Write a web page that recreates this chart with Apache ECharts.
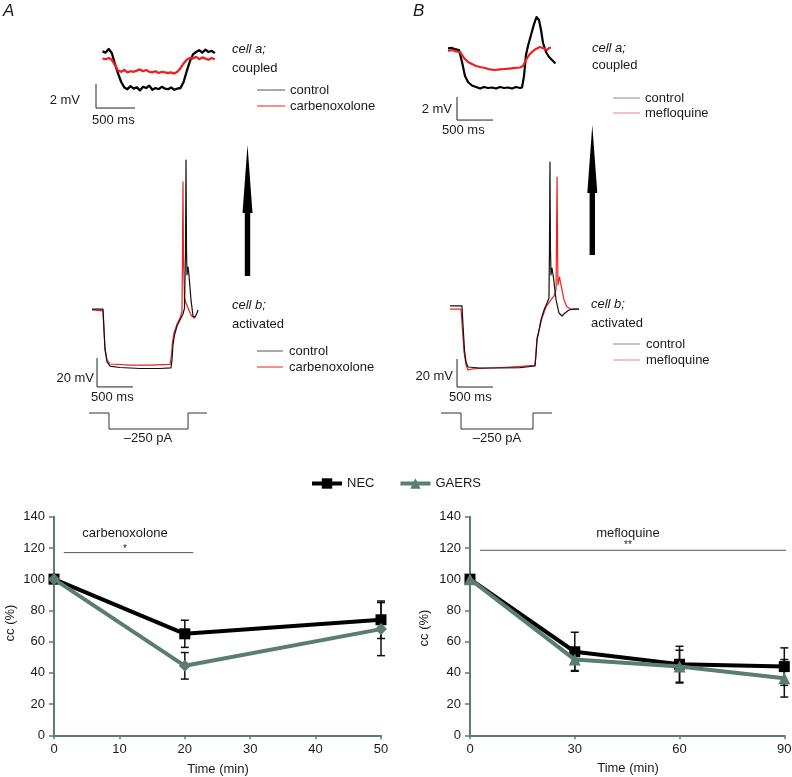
<!DOCTYPE html>
<html><head><meta charset="utf-8">
<script src="https://cdn.jsdelivr.net/npm/echarts@6/dist/echarts.min.js"></script>
<style>html,body{margin:0;padding:0;background:#fff}#c{width:792px;height:777px}</style>
</head><body><div id="c"></div>
<script>
// ---------- bottom charts data ----------
const timeCarb = [0, 20, 50];
const necCarb = [100, 65, 74];
const necCarbErr = [0, 8.7, 12];
const gaersCarb = [100, 44.5, 68];
const gaersCarbErr = [0, 8.5, 17];
const timeMef = [0, 30, 60, 90];
const necMef = [100, 53.5, 45.5, 44];
const necMefErr = [0, 12.5, 11.5, 12];
const gaersMef = [100, 48.5, 44, 36.5];
const gaersMefErr = [0, 7, 10.5, 12];
const carbSpan = [[1.5, 117], [21.3, 117]];
const mefSpan = [[2.9, 118.5], [90.8, 118.5]];
const ccTicks = [0, 20, 40, 60, 80, 100, 120, 140];

// ---------- trace data (ms, mV) ----------
const timeA1 = [160,200,240,280,320,360,400,440,480,520,560,600,640,680,720,760,800,840,880,920,960,1000,1040,1080,1120,1160,1200,1240,1280,1320,1360,1400,1440,1480,1520,1560,1600];
const ctrlA1 = [0.55,0.45,0.75,0.4,-0.5,-1.3,-2.0,-2.45,-2.6,-2.35,-2.55,-2.45,-2.7,-2.4,-2.5,-2.3,-2.65,-2.5,-2.6,-2.4,-2.55,-2.6,-2.45,-2.65,-2.55,-2.5,-2.0,-1.1,-0.3,0.3,0.5,0.65,0.45,0.7,0.5,0.6,0.4];
const carbA1 = [-0.05,-0.1,0.0,-0.15,-0.6,-1.05,-1.15,-1.0,-1.2,-1.1,-1.15,-1.05,-0.95,-1.1,-1.0,-1.15,-1.2,-1.1,-1.25,-1.15,-1.2,-1.25,-1.2,-1.3,-1.15,-0.85,-0.45,-0.15,0.0,-0.05,0.1,-0.1,0.05,-0.05,-0.15,0.0,-0.1];

const ctrlB1 = [[111,-1.33],[167,-1.30],[222,-1.43],[264,-1.48],[306,-2.52],[347,-3.74],[389,-4.26],[444,-4.57],[500,-4.70],[556,-4.83],[611,-4.70],[667,-4.78],[722,-4.74],[778,-4.83],[833,-4.70],[889,-4.78],[944,-4.74],[1000,-4.83],[1056,-4.70],[1111,-4.78],[1139,-4.74],[1167,-3.74],[1194,-1.91],[1222,-1.13],[1264,-0.17],[1306,0.78],[1340,1.39],[1375,1.13],[1403,0.26],[1431,-0.87],[1472,-1.65],[1514,-2.09],[1556,-2.35],[1604,-2.65]];
const mefB1 = [[111,-1.57],[167,-1.48],[222,-1.61],[278,-1.65],[333,-2.17],[389,-2.52],[444,-2.70],[500,-2.87],[556,-2.96],[625,-3.04],[694,-3.17],[764,-3.22],[833,-3.17],[903,-3.13],[972,-3.09],[1042,-3.04],[1111,-3.00],[1153,-2.87],[1194,-2.35],[1236,-1.91],[1278,-1.65],[1333,-1.39],[1389,-1.22],[1444,-1.35],[1486,-1.48],[1514,-1.30],[1542,-1.26]];

const ctrlA2 = [[97,-69.7],[250,-69.7],[264,-84.1],[278,-97.9],[306,-106.2],[347,-109.0],[486,-110.0],[764,-110.7],[1042,-110.7],[1194,-110.3],[1208,-104.8],[1222,-94.5],[1243,-87.6],[1278,-81.4],[1319,-77.2],[1361,-73.1],[1382,-69.0],[1396,-29],[1403,33.1],[1410,-29],[1417,-46.2],[1431,-40.7],[1444,-46.2],[1472,-63.4],[1500,-74.5],[1528,-75.2],[1556,-72.4],[1569,-70.3]];
const carbA2 = [[97,-70.3],[250,-71.0],[264,-84.1],[278,-96.6],[306,-104.8],[347,-107.6],[625,-108.3],[903,-108.3],[1181,-107.9],[1201,-101.4],[1215,-92.4],[1236,-86.2],[1278,-80.0],[1319,-75.9],[1347,-71.7],[1354,-29],[1361,18.0],[1368,-35.9],[1382,-62.1],[1403,-65.5],[1431,-69.0],[1472,-73.8],[1514,-75.9],[1528,-75.2]];

const ctrlB2 = [[69,-71.4],[236,-71.4],[250,-85],[271,-102.9],[292,-111.4],[319,-115],[486,-115.7],[764,-115.7],[1042,-115.4],[1250,-114.3],[1264,-106.4],[1278,-95.7],[1299,-90.7],[1333,-81.4],[1375,-74.3],[1417,-69.3],[1444,-65.7],[1451,-31.4],[1458,31.4],[1465,-31.4],[1472,-49.3],[1486,-44.3],[1507,-51.4],[1542,-67.1],[1583,-76.4],[1625,-78.6],[1667,-76.4],[1722,-74.3],[1792,-73.6],[1861,-73.6]];
const mefB2 = [[69,-73.6],[222,-73.6],[243,-88.6],[264,-104.3],[292,-113.6],[319,-117.1],[375,-116.4],[625,-115.7],[903,-115],[1250,-113.9],[1264,-104.3],[1278,-94.3],[1306,-88.6],[1347,-80],[1403,-72.1],[1458,-67.9],[1514,-64.3],[1542,-60],[1549,-24.3],[1556,20.7],[1563,-24.3],[1569,-56.4],[1590,-50.7],[1611,-56.4],[1653,-67.1],[1694,-72.1],[1750,-73.6],[1861,-73.6]];

// current command steps (ms, pA)
const stepTimeA = [56, 333, 333, 1431, 1431, 1694];
const stepTimeB = [83, 361, 361, 1361, 1361, 1625];
const stepCurrent = [0, 0, -250, -250, 0, 0];

// scale bars (500 ms, 2 mV / 20 mV)
const scaleA1 = [[77,-2.17],[77,-4.17],[577,-4.17]];
const scaleB1 = [[236,-5.57],[236,-7.57],[736,-7.57]];
const scaleA2 = [[167,-103.4],[167,-123.4],[667,-123.4]];
const scaleB2 = [[167,-109.3],[167,-129.3],[667,-129.3]];

// ---------- styling ----------
const FONT = 'Liberation Sans, Arial, Helvetica, sans-serif';
const TEAL = '#5a7d73';
const RED = '#ec2020';
const TXT = '#1a1a1a';

const chart = echarts.init(document.getElementById('c'), null, {renderer: 'canvas'});

function hiddenAxis(gi, min, max) {
  return {type: 'value', gridIndex: gi, min, max, show: false, splitLine: {show: false}};
}
function ccXAxis(gi, max, interval) {
  return {type: 'value', gridIndex: gi, min: 0, max, interval,
    axisLine: {show: true, onZero: false, lineStyle: {color: TEAL, width: 2}},
    axisTick: {show: true, length: 4, lineStyle: {color: TEAL, width: 1.5}},
    axisLabel: {color: TXT, fontSize: 13, fontFamily: FONT, margin: 8},
    splitLine: {show: false}};
}
function ccYAxis(gi) {
  return {type: 'value', gridIndex: gi, min: ccTicks[0], max: ccTicks[ccTicks.length-1], interval: ccTicks[1]-ccTicks[0],
    axisLine: {show: true, onZero: false, lineStyle: {color: TEAL, width: 2}},
    axisTick: {show: true, length: 5, lineStyle: {color: TEAL, width: 1.5}},
    axisLabel: {color: TXT, fontSize: 13, fontFamily: FONT, margin: 9},
    splitLine: {show: false}};
}
function trace(name, gi, data, color, width, z) {
  return {type: 'line', name, xAxisIndex: gi, yAxisIndex: gi, data, symbol: 'none', showSymbol: false,
    lineStyle: {color, width, join: 'round'}, silent: true, animation: false, z: z || 2, clip: false};
}
function errBars(gi, xs, ys, es) {
  const data = xs.map((x, i) => [x, ys[i] - es[i], ys[i] + es[i]]);
  return {type: 'custom', xAxisIndex: gi, yAxisIndex: gi, data, z: 2, silent: true, animation: false,
    encode: {x: 0, y: [1, 2]},
    renderItem: function (params, api) {
      const x = api.value(0), lo = api.value(1), hi = api.value(2);
      if (hi - lo < 0.01) return null;
      const a = api.coord([x, hi]), b = api.coord([x, lo]);
      const st = {stroke: '#111', lineWidth: 1.5};
      return {type: 'group', children: [
        {type: 'line', shape: {x1: a[0], y1: a[1], x2: b[0], y2: b[1]}, style: st},
        {type: 'line', shape: {x1: a[0]-4, y1: a[1], x2: a[0]+4, y2: a[1]}, style: st},
        {type: 'line', shape: {x1: b[0]-4, y1: b[1], x2: b[0]+4, y2: b[1]}, style: st}
      ]};
    }};
}
function ccSeries(name, gi, xs, ys, color, symbol, size) {
  return {type: 'line', name, xAxisIndex: gi, yAxisIndex: gi, data: xs.map((x, i) => [x, ys[i]]),
    symbol, symbolSize: size, showSymbol: true, lineStyle: {color, width: 4}, itemStyle: {color},
    z: name === 'GAERS' ? 4 : 3, animation: false, clip: false};
}

const txt = (text, x, y, opt) => Object.assign({type: 'text', x, y, silent: true,
  style: Object.assign({text, fill: TXT, font: '13px ' + FONT, align: 'left', verticalAlign: 'middle'}, (opt || {}))});
const seg = (x1, y1, x2, y2, color, w) => ({type: 'line', silent: true, shape: {x1, y1, x2, y2}, style: {stroke: color, lineWidth: w || 1}});
const arrow = (cx, tip, base, bottom) => ({type: 'polygon', silent: true,
  shape: {points: [[cx, tip], [cx+5, base], [cx+2.7, base], [cx+2.7, bottom], [cx-2.7, bottom], [cx-2.7, base], [cx-5, base]]},
  style: {fill: '#000'}});

const option = {
  backgroundColor: '#fff',
  animation: false,
  legend: {
    data: ['NEC', 'GAERS'], left: 305, top: 472, itemWidth: 30, itemHeight: 13, itemGap: 24,
    lineStyle: {width: 4},
    textStyle: {fontSize: 13, color: TXT, fontFamily: FONT}, selectedMode: false
  },
  grid: [
    {left: 54, top: 516.7, width: 327, height: 218.6, outerBoundsMode: 'none'},
    {left: 470, top: 516.7, width: 314.3, height: 218.6, outerBoundsMode: 'none'},
    {left: 90, top: 34, width: 130, height: 84, outerBoundsMode: 'none'},
    {left: 440, top: 10, width: 130, height: 115, outerBoundsMode: 'none'},
    {left: 85, top: 150, width: 125, height: 240, outerBoundsMode: 'none'},
    {left: 445, top: 150, width: 140, height: 240, outerBoundsMode: 'none'},
    {left: 85, top: 403.4, width: 125, height: 32, outerBoundsMode: 'none'},
    {left: 435, top: 403.4, width: 130, height: 32, outerBoundsMode: 'none'}
  ],
  xAxis: [
    ccXAxis(0, 50, 10),
    ccXAxis(1, 90, 30),
    hiddenAxis(2, 0, 130 / 0.078),
    hiddenAxis(3, 0, 130 / 0.072),
    hiddenAxis(4, 0, 125 / 0.072),
    hiddenAxis(5, 0, 140 / 0.072),
    hiddenAxis(6, 0, 125 / 0.072),
    hiddenAxis(7, 0, 130 / 0.072)
  ],
  yAxis: [
    ccYAxis(0),
    ccYAxis(1),
    hiddenAxis(2, -5, 2),
    hiddenAxis(3, -8, 2),
    hiddenAxis(4, 40 - 240 / 1.45, 40),
    hiddenAxis(5, 40 - 240 / 1.4, 40),
    hiddenAxis(6, -350, 150),
    hiddenAxis(7, -350, 150)
  ],
  series: [
    // right chart first so legend picks triangle for GAERS
    errBars(1, timeMef, necMef, necMefErr),
    errBars(1, timeMef, gaersMef, gaersMefErr),
    ccSeries('NEC', 1, timeMef, necMef, '#000', 'rect', 11),
    ccSeries('GAERS', 1, timeMef, gaersMef, TEAL, 'triangle', 12),
    errBars(0, timeCarb, necCarb, necCarbErr),
    errBars(0, timeCarb, gaersCarb, gaersCarbErr),
    ccSeries('NEC', 0, timeCarb, necCarb, '#000', 'rect', 11),
    ccSeries('GAERS', 0, timeCarb, gaersCarb, TEAL, 'diamond', 12),
    trace('carbenoxolone span', 0, carbSpan, '#555', 1),
    trace('mefloquine span', 1, mefSpan, '#555', 1),
    // top traces
    trace('control', 2, timeA1.map((t, i) => [t, ctrlA1[i]]), '#000', 2.3, 3),
    trace('carbenoxolone', 2, timeA1.map((t, i) => [t, carbA1[i]]), RED, 2.3, 4),
    trace('scale', 2, scaleA1, '#222', 1),
    trace('control', 3, ctrlB1, '#000', 2.2, 3),
    trace('mefloquine', 3, mefB1, RED, 2.2, 4),
    trace('scale', 3, scaleB1, '#222', 1),
    // middle traces
    trace('control', 4, ctrlA2, '#111', 1.2, 4),
    trace('carbenoxolone', 4, carbA2, RED, 1.2, 3),
    trace('scale', 4, scaleA2, '#222', 1),
    trace('control', 5, ctrlB2, '#111', 1.2, 4),
    trace('mefloquine', 5, mefB2, RED, 1.2, 3),
    trace('scale', 5, scaleB2, '#222', 1),
    // current steps
    trace('step', 6, stepTimeA.map((t, i) => [t, stepCurrent[i]]), '#333', 1),
    trace('step', 7, stepTimeB.map((t, i) => [t, stepCurrent[i]]), '#333', 1)
  ],
  graphic: [
    txt('A', 3, 11, {font: 'italic 17px ' + FONT}),
    txt('B', 413, 11, {font: 'italic 17px ' + FONT}),
    // A top
    txt('cell a;', 232, 49, {font: 'italic 13px ' + FONT}),
    txt('coupled', 232, 68),
    seg(257, 90, 285, 90, '#555'), txt('control', 290, 90),
    seg(257, 106, 285, 106, RED), txt('carbenoxolone', 290, 106),
    txt('2 mV', 80, 100, {align: 'right'}),
    txt('500 ms', 92, 120),
    // B top
    txt('cell a;', 592, 48, {font: 'italic 13px ' + FONT}),
    txt('coupled', 592, 65),
    seg(613, 98, 640, 98, '#888'), txt('control', 645, 98),
    seg(613, 113, 640, 113, '#f08080'), txt('mefloquine', 645, 113),
    txt('2 mV', 452, 109, {align: 'right'}),
    txt('500 ms', 442, 130),
    // A middle
    arrow(247.5, 145, 213, 276),
    txt('cell b;', 232, 305, {font: 'italic 13px ' + FONT}),
    txt('activated', 232, 324),
    seg(257, 351, 283, 351, '#555'), txt('control', 289, 351),
    seg(257, 367, 283, 367, RED), txt('carbenoxolone', 289, 367),
    txt('20 mV', 94, 378, {align: 'right'}),
    txt('500 ms', 91, 397),
    txt('–250 pA', 148, 438, {align: 'center'}),
    // B middle
    arrow(592.3, 125, 193, 255),
    txt('cell b;', 591, 304, {font: 'italic 13px ' + FONT}),
    txt('activated', 591, 323),
    seg(613, 344, 640, 344, '#888'), txt('control', 646, 344),
    seg(613, 360, 640, 360, '#f08080'), txt('mefloquine', 646, 360),
    txt('20 mV', 453, 376, {align: 'right'}),
    txt('500 ms', 449, 397),
    txt('–250 pA', 497, 438, {align: 'center'}),
    // bottom annotations
    txt('carbenoxolone', 125, 533, {align: 'center'}),
    txt('*', 125, 549, {align: 'center', font: '10px ' + FONT}),
    txt('mefloquine', 628, 533, {align: 'center'}),
    txt('**', 628, 545, {align: 'center', font: '10px ' + FONT}),
    txt('Time (min)', 218, 769, {align: 'center'}),
    txt('Time (min)', 628, 768, {align: 'center'}),
    {type: 'text', x: 10, y: 623, rotation: Math.PI / 2, silent: true,
      style: {text: 'cc (%)', fill: TXT, font: '13px ' + FONT, align: 'center', verticalAlign: 'middle'}},
    {type: 'text', x: 424, y: 628, rotation: Math.PI / 2, silent: true,
      style: {text: 'cc (%)', fill: TXT, font: '13px ' + FONT, align: 'center', verticalAlign: 'middle'}}
  ]
};
chart.setOption(option);
</script></body></html>
